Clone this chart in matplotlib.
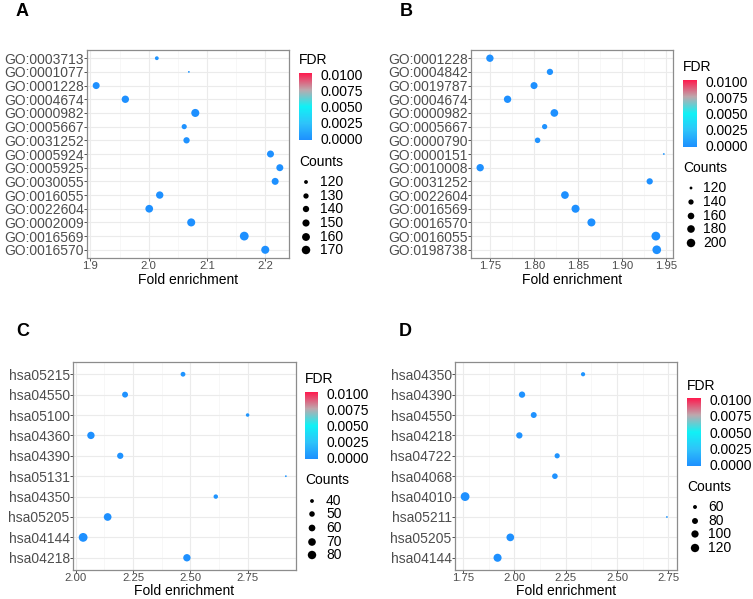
import numpy as np
import matplotlib
matplotlib.use("Agg")
import matplotlib.pyplot as plt
from matplotlib.colors import LinearSegmentedColormap, Normalize

plt.rcParams['font.family'] = ['Liberation Sans', 'DejaVu Sans']

# --- Data (top-to-bottom order as shown) ---
a_terms = ["GO:0003713", "GO:0001077", "GO:0001228", "GO:0004674", "GO:0000982",
           "GO:0005667", "GO:0031252", "GO:0005924", "GO:0005925", "GO:0030055",
           "GO:0016055", "GO:0022604", "GO:0002009", "GO:0016569", "GO:0016570"]
a_fold = [2.014, 2.069, 1.910, 1.960, 2.080, 2.061, 2.065, 2.209, 2.225, 2.217,
          2.019, 2.001, 2.073, 2.164, 2.200]
a_counts = [120, 115, 148, 153, 163, 129, 140, 148, 148, 148, 153, 158, 163, 175, 163]
a_fdr = [0.0002, 0.0003, 0.0000, 0.0000, 0.0000, 0.0001, 0.0001, 0.0000, 0.0000,
         0.0000, 0.0000, 0.0000, 0.0000, 0.0000, 0.0000]

b_terms = ["GO:0001228", "GO:0004842", "GO:0019787", "GO:0004674", "GO:0000982",
           "GO:0005667", "GO:0000790", "GO:0000151", "GO:0010008", "GO:0031252",
           "GO:0022604", "GO:0016569", "GO:0016570", "GO:0016055", "GO:0198738"]
b_fold = [1.750, 1.818, 1.800, 1.770, 1.823, 1.812, 1.804, 1.947, 1.739, 1.931,
          1.835, 1.847, 1.865, 1.938, 1.939]
b_counts = [175, 155, 168, 175, 182, 140, 144, 118, 175, 155, 182, 190, 190, 208, 205]
b_fdr = [0.0000, 0.0001, 0.0000, 0.0000, 0.0000, 0.0001, 0.0001, 0.0003, 0.0000,
         0.0000, 0.0000, 0.0000, 0.0000, 0.0000, 0.0000]

c_terms = ["hsa05215", "hsa04550", "hsa05100", "hsa04360", "hsa04390",
           "hsa05131", "hsa04350", "hsa05205", "hsa04144", "hsa04218"]
c_fold = [2.468, 2.215, 2.750, 2.066, 2.194, 2.917, 2.611, 2.139, 2.032, 2.485]
c_counts = [45, 53, 39, 67, 56, 36, 43, 71, 85, 67]
c_fdr = [0.0002, 0.0001, 0.0003, 0.0000, 0.0001, 0.0003, 0.0002, 0.0000, 0.0000, 0.0000]

d_terms = ["hsa04350", "hsa04390", "hsa04550", "hsa04218", "hsa04722",
           "hsa04068", "hsa04010", "hsa05211", "hsa05205", "hsa04144"]
d_fold = [2.335, 2.038, 2.095, 2.025, 2.209, 2.198, 1.761, 2.743, 1.981, 1.919]
d_counts = [62, 85, 80, 85, 71, 76, 130, 53, 108, 115]
d_fdr = [0.0002, 0.0001, 0.0001, 0.0001, 0.0002, 0.0001, 0.0000, 0.0003, 0.0000, 0.0000]

# --- Layout (pixels, top-left origin) ---
W, H = 753, 599
cmap = LinearSegmentedColormap.from_list(
    "fdr", [(0.0, "#1E90FF"), (0.25, "#2FC4FA"), (0.5, "#10F2F6"),
            (0.75, "#BDA9AE"), (1.0, "#FF1A4E")])
norm = Normalize(0, 0.01)
GREY = "#4D4D4D"


def frac(x0, y0, x1, y1):
    return [x0 / W, 1 - y1 / H, (x1 - x0) / W, (y1 - y0) / H]


def size_px(v, lo, hi):
    # ggplot-like area scaling between smallest and largest count
    t = (np.asarray(v, float) - lo) / (hi - lo)
    return 1.8 + 7.0 * np.sqrt(np.clip(t, 0, 1))


def to_s(dpx):
    return (np.asarray(dpx) * 0.72) ** 2


fig = plt.figure(figsize=(W / 100, H / 100), dpi=100)

panels = [
    dict(letter="A", lpos=(22, 11), terms=a_terms, fold=a_fold, counts=a_counts, fdr=a_fdr,
         ax=(87, 50, 289, 258), ticks=[1.9, 2.0, 2.1, 2.2], fmt="{:.1f}", xlab_y=284,
         cbar=(299, 73, 312, 140), fdr_y=60, cnt_y=162, breaks=[120, 130, 140, 150, 160, 170],
         leg_y=[182, 196, 209, 223, 237, 250], dot_x=306, lab_x=320),
    dict(letter="B", lpos=(406, 11), terms=b_terms, fold=b_fold, counts=b_counts, fdr=b_fdr,
         ax=(471, 50, 673, 258), ticks=[1.75, 1.80, 1.85, 1.90, 1.95], fmt="{:.2f}", xlab_y=284,
         cbar=(683, 80, 697, 147), fdr_y=67, cnt_y=168, breaks=[120, 140, 160, 180, 200],
         leg_y=[188, 202, 216, 229, 243], dot_x=691, lab_x=703),
    dict(letter="C", lpos=(23, 331), terms=c_terms, fold=c_fold, counts=c_counts, fdr=c_fdr,
         ax=(73, 362, 296, 570), ticks=[2.00, 2.25, 2.50, 2.75], fmt="{:.2f}", xlab_y=595,
         cbar=(305, 392, 318, 459), fdr_y=379, cnt_y=480, breaks=[40, 50, 60, 70, 80],
         leg_y=[501, 514, 528, 542, 555], dot_x=312, lab_x=326),
    dict(letter="D", lpos=(405, 331), terms=d_terms, fold=d_fold, counts=d_counts, fdr=d_fdr,
         ax=(455, 362, 677, 570), ticks=[1.75, 2.00, 2.25, 2.50, 2.75], fmt="{:.2f}", xlab_y=595,
         cbar=(687, 398, 701, 466), fdr_y=386, cnt_y=487, breaks=[60, 80, 100, 120],
         leg_y=[507, 521, 534, 548], dot_x=695, lab_x=708),
]

legend_items = []
for p in panels:
    ax = fig.add_axes(frac(*p["ax"]))
    n = len(p["terms"])
    y = np.arange(n)[::-1]
    lo, hi = min(p["counts"]), max(p["counts"])
    ax.scatter(p["fold"], y, s=to_s(size_px(p["counts"], lo, hi)),
               c=cmap(norm(np.array(p["fdr"]))), linewidths=0, zorder=3)

    xmin, xmax = min(p["fold"]), max(p["fold"])
    pad = 0.05 * (xmax - xmin)
    ax.set_xlim(xmin - pad, xmax + pad)
    ax.set_ylim(-0.6, n - 1 + 0.6)
    ax.set_yticks(y)
    ax.set_yticklabels(p["terms"], fontsize=10, color=GREY)
    ax.set_xticks(p["ticks"])
    ax.set_xticklabels([p["fmt"].format(t) for t in p["ticks"]], fontsize=8.2, color=GREY)
    minor = [(a + b) / 2 for a, b in zip(p["ticks"][:-1], p["ticks"][1:])]
    ax.set_xticks(minor, minor=True)
    ax.tick_params(axis="both", which="major", length=2, width=0.6, color="#333333", pad=0.4)
    ax.tick_params(axis="x", which="minor", length=0)
    ax.grid(True, which="major", color="#EBEBEB", lw=0.8, zorder=0)
    ax.grid(True, which="minor", axis="x", color="#F2F2F2", lw=0.4, zorder=0)
    ax.set_axisbelow(True)
    for sp in ax.spines.values():
        sp.set_color("#8C8C8C")
        sp.set_linewidth(0.9)

    # FDR colour bar
    cax = fig.add_axes(frac(*p["cbar"]))
    grad = np.linspace(0, 0.01, 256).reshape(-1, 1)
    cax.imshow(grad, aspect="auto", cmap=cmap, norm=norm, origin="lower",
               extent=(0, 1, -0.0003, 0.0103))
    cax.set_ylim(-0.0003, 0.0103)
    cax.set_xticks([])
    cax.set_yticks([0, 0.0025, 0.005, 0.0075, 0.01])
    cax.set_yticklabels(["0.0000", "0.0025", "0.0050", "0.0075", "0.0100"], fontsize=10)
    cax.yaxis.tick_right()
    cax.tick_params(axis="y", length=0, pad=6)
    for sp in cax.spines.values():
        sp.set_visible(False)

    legend_items.append((p, lo, hi))

# legends, axis titles and panel letters drawn in pixel coordinates
overlay = fig.add_axes([0, 0, 1, 1])
overlay.set_xlim(0, W)
overlay.set_ylim(H, 0)
overlay.axis("off")
for p, lo, hi in legend_items:
    overlay.text(p["lpos"][0], p["lpos"][1], p["letter"], fontsize=13, fontweight="bold",
                 ha="center", va="center")
    overlay.text((p["ax"][0] + p["ax"][2]) / 2, p["xlab_y"], "Fold enrichment",
                 fontsize=10, ha="center", va="baseline")
    overlay.text(p["cbar"][0], p["fdr_y"], "FDR", fontsize=10, ha="left", va="center")
    overlay.text(p["cbar"][0], p["cnt_y"], "Counts", fontsize=10, ha="left", va="center")
    overlay.scatter([p["dot_x"]] * len(p["breaks"]), p["leg_y"],
                    s=to_s(size_px(p["breaks"], lo, hi)), c="black", linewidths=0)
    for b, yy in zip(p["breaks"], p["leg_y"]):
        overlay.text(p["lab_x"], yy, str(b), fontsize=10, ha="left", va="center")

fig.savefig("out.png", dpi=100)
